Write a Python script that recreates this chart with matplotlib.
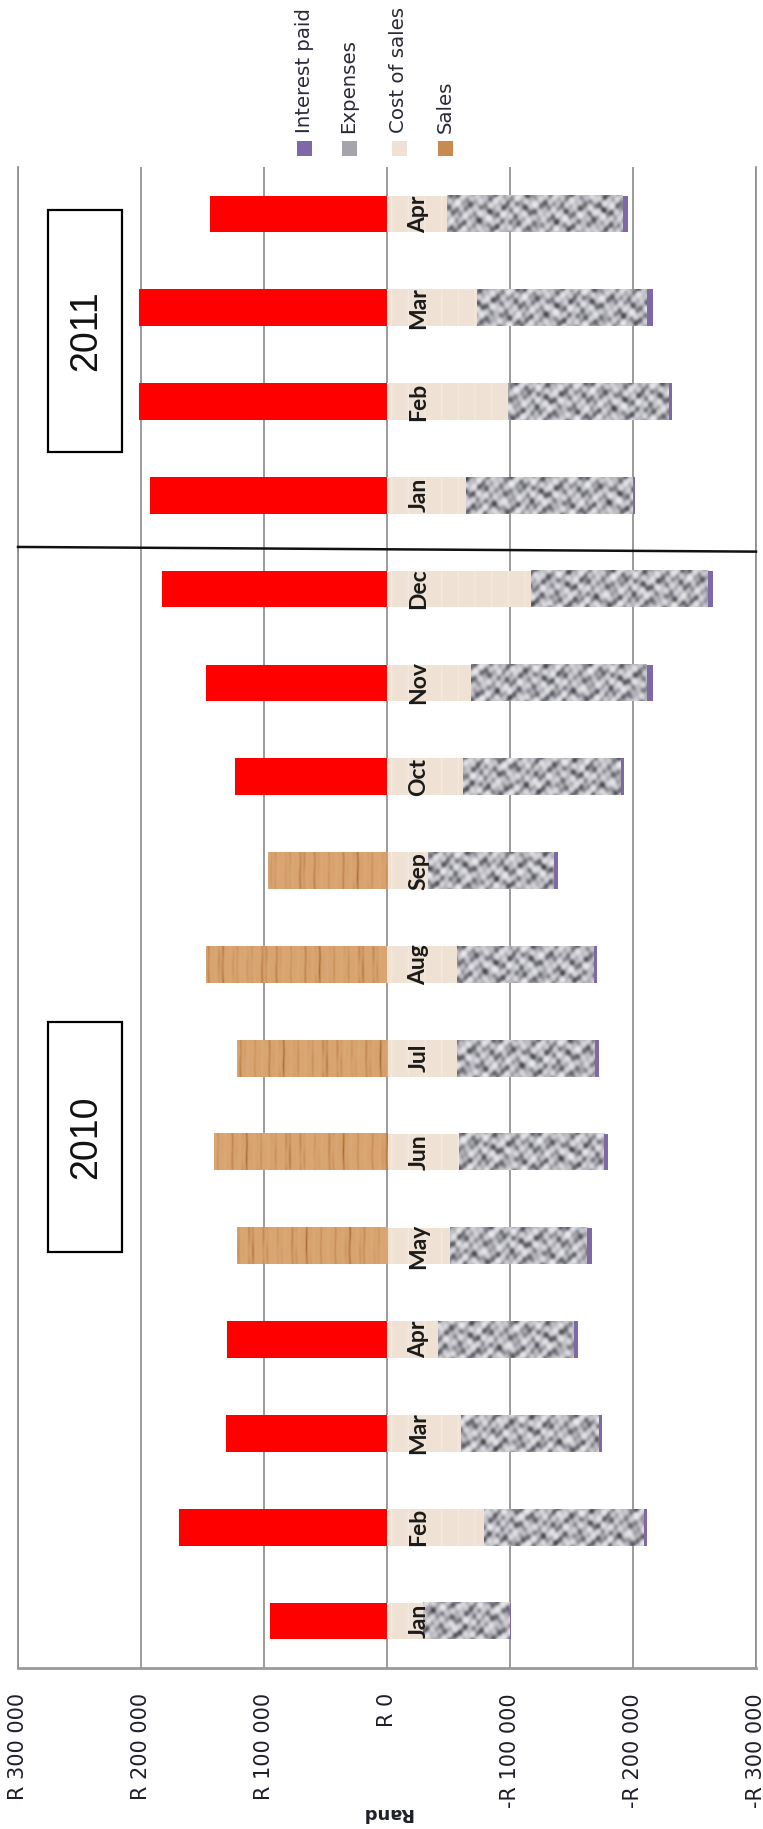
import numpy as np
import matplotlib.pyplot as plt
from matplotlib.patches import Rectangle
from matplotlib.ticker import FuncFormatter
from matplotlib.colors import LinearSegmentedColormap

W, H = 763, 1829

months = ['Jan', 'Feb', 'Mar', 'Apr', 'May', 'Jun', 'Jul', 'Aug', 'Sep', 'Oct', 'Nov', 'Dec',
          'Jan', 'Feb', 'Mar', 'Apr']
years = ['2010', '2011']
sales = [95500, 169000, 131000, 130000, 122000, 141000, 122000, 147000,
         97000, 123500, 147000, 183000, 193000, 202000, 202000, 144000]
cost_of_sales = [-29500, -79000, -60000, -41500, -51000, -58500, -57000, -57000,
                 -33500, -62000, -68000, -117000, -64000, -98000, -73000, -49000]
expenses = [-70500, -130000, -112000, -110500, -112000, -118000, -112000, -111000,
            -102000, -128000, -143000, -144000, -136000, -131500, -138000, -143000]
interest_paid = [-1000, -2500, -3000, -3000, -4000, -3500, -3000, -2500,
                 -3500, -3000, -5000, -4000, -2000, -2500, -5000, -4000]

plt.rcParams['font.family'] = ['DejaVu Sans']
plt.rcParams['hatch.linewidth'] = 1.0

RED = '#ff0000'
WOOD_C = '#cf9a64'
COST_C = '#efe2d4'
GRANITE_C = '#b0b0b6'
INTEREST_C = '#7f68a8'
PX_PER_100K = 123.0

# surface textures for the picture-filled series
yy, xx = np.mgrid[0:48, 0:600].astype(float)
gx, gy = xx * 0.6, yy * 0.6
granite = (np.sin(gx * 0.55 + 2.1 * np.sin(gy * 0.31))
           + np.sin(gy * 0.62 + 1.7 * np.sin(gx * 0.27))
           + 0.7 * np.sin((gx + gy) * 0.93 + np.sin(gx * 0.2))
           + 0.5 * np.sin((gx - 2 * gy) * 0.43)
           + 0.4 * np.sin(gx * 1.37 - gy * 0.71))
granite = (granite - granite.min()) / (granite.max() - granite.min())
granite_cmap = LinearSegmentedColormap.from_list(
    'granite', ['#46464c', '#7c7c84', '#b4b4ba', '#d8d8dc', '#ececef'])

wood = (np.sin(xx * 0.45 + 0.35 * np.sin(yy * 0.15 + xx * 0.03))
        + 0.6 * np.sin(xx * 1.3 + 0.3 * np.sin(yy * 0.2))
        + 0.4 * np.sin(xx * 0.13))
wood = (wood - wood.min()) / (wood.max() - wood.min())
wood = wood ** 0.4
wood_cmap = LinearSegmentedColormap.from_list(
    'wood', ['#8e5a2a', '#bf8650', '#d6a16d', '#dba976'])


def rand_fmt(v, pos):
    if v == 0:
        return 'R 0'
    s = '{:,}'.format(abs(int(v))).replace(',', ' ')
    return ('-R ' if v < 0 else 'R ') + s


def px(x, y):
    return x / W, 1 - y / H


def fill_texture(ax, bars, tex, cmap):
    for k, rect in enumerate(bars.patches):
        x0, w = rect.get_x(), rect.get_width()
        y0, h = rect.get_y(), rect.get_height()
        n = max(int(abs(w) / 100000 * PX_PER_100K) + 1, 2)
        off = (k * 37) % (tex.shape[1] - 300)
        ax.imshow(tex[:38, off:off + n], extent=(x0, x0 + w, y0, y0 + h),
                  aspect='auto', cmap=cmap, vmin=0, vmax=1,
                  interpolation='bilinear', zorder=2.1, clip_path=rect)


fig = plt.figure(figsize=(W / 100, H / 100), dpi=100)
ax = fig.add_axes([18 / W, 1 - 1668 / H, (756 - 18) / W, (1668 - 167) / H])

y = np.arange(len(months))
bw = 0.39
sales = np.array(sales)
cos = np.array(cost_of_sales)
exp = np.array(expenses)
intr = np.array(interest_paid)

# May-Sep 2010 sales use the wood fill, the rest are plain red
is_wood = np.zeros(len(months), bool)
is_wood[4:9] = True
ax.barh(y[~is_wood], sales[~is_wood], bw, color=RED, lw=0, zorder=2)
wood_bars = ax.barh(y[is_wood], sales[is_wood], bw, color=WOOD_C, lw=0, zorder=2)
fill_texture(ax, wood_bars, wood, wood_cmap)
ax.barh(y, cos, bw, color=COST_C, edgecolor='#f3e9de', hatch='|', lw=0, zorder=2)
exp_bars = ax.barh(y, exp, bw, left=cos, color=GRANITE_C, lw=0, zorder=2)
fill_texture(ax, exp_bars, granite, granite_cmap)
ax.barh(y, intr, bw, left=cos + exp, color=INTEREST_C, lw=0, zorder=3)

ax.set_xlim(300000, -300000)
ax.set_ylim(-0.5, len(months) - 0.5)
ax.set_xticks(np.arange(-300000, 300001, 100000))
ax.xaxis.set_major_formatter(FuncFormatter(rand_fmt))
ax.tick_params(axis='x', length=0, pad=18, labelsize=15, labelrotation=90,
               labelcolor='#1f1f2a')
ax.set_yticks([])
ax.grid(axis='x', color='#8a8a8a', lw=1.2, zorder=0)
ax.set_axisbelow(True)
ax.spines['top'].set_visible(False)
for s in ['left', 'right']:
    ax.spines[s].set_color('#8a8a8a')
    ax.spines[s].set_linewidth(1.2)
ax.spines['bottom'].set_color('#9a9a9a')
ax.spines['bottom'].set_linewidth(2)

for i, m in enumerate(months):
    ax.annotate(m, xy=(0, i), xytext=(23, 0), textcoords='offset points',
                rotation=90, ha='center', va='center', fontsize=16.5,
                family=['Lato', 'DejaVu Sans'], fontweight='bold',
                color='#1a1a1a', zorder=5)

# year divider between Dec 2010 and Jan 2011
split = 11.5
ax.plot([300000, -300000], [split - 0.05, split - 0.10], color='#111111',
        lw=1.8, zorder=3, clip_on=False)

# year boxes
for label, top, bottom in [(years[0], 1022, 1252), (years[1], 210, 452)]:
    fig.add_artist(Rectangle(px(48, bottom), 74 / W, (bottom - top) / H,
                             transform=fig.transFigure, fill=False,
                             ec='black', lw=1.6))
    fig.text(*px(86, (top + bottom) / 2), label, rotation=90, ha='center',
             va='center', fontsize=27, color='#111111',
             family=['Liberation Sans', 'DejaVu Sans'])

# legend
legend = [('Interest paid', INTEREST_C, 304), ('Expenses', '#a4a4aa', 349),
          ('Cost of sales', COST_C, 399), ('Sales', '#c98a52', 445)]
for label, color, x in legend:
    fig.add_artist(Rectangle(px(x - 7.5, 156), 15 / W, 15 / H,
                             transform=fig.transFigure, lw=0, color=color))
    fig.text(*px(x, 133), label, rotation=90, ha='center', va='bottom',
             fontsize=14.2, color='#2a2a35')

fig.text(*px(387, 1813), 'Rand', rotation=180, ha='center', va='center',
         fontsize=13, fontweight='bold', color='#1f1f2a')

fig.savefig('out.png', dpi=100)
